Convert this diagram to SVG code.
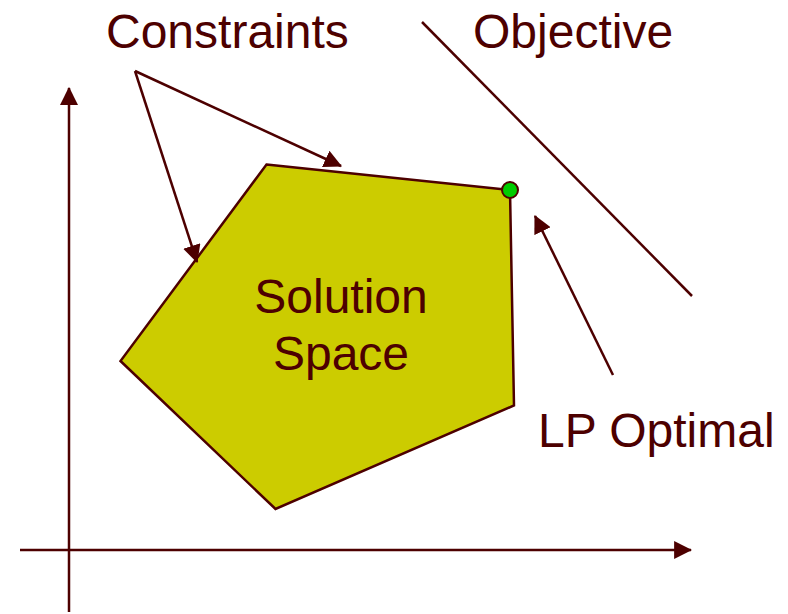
<svg xmlns="http://www.w3.org/2000/svg" width="788" height="614" viewBox="0 0 788 614">
<style>
.t{font-family:"Liberation Sans",Arial,sans-serif;font-size:48px;fill:#4d0000}
.ln{stroke:#4d0000;stroke-width:2.5;fill:none}
</style>
<defs>
<marker id="ah" markerUnits="userSpaceOnUse" markerWidth="18" markerHeight="18" viewBox="0 0 16 16" refX="15" refY="8" orient="auto">
<path d="M0,0 L16,8 L0,16 Z" fill="#4d0000"/>
</marker>
</defs>
<rect width="788" height="614" fill="#ffffff"/>
<g id="axes">
<line class="ln" x1="69" y1="612" x2="69" y2="88" marker-end="url(#ah)"/>
<line class="ln" x1="20" y1="550" x2="691" y2="550" marker-end="url(#ah)"/>
</g>
<g id="solution-space">
<polygon points="266.5,164.5 510,190 514,405.5 275.5,509 120.5,361" fill="#cccc00" stroke="#4d0000" stroke-width="2.5" stroke-linejoin="miter"/>
<text class="t" x="341" y="313" text-anchor="middle">Solution</text>
<text class="t" x="341" y="370" text-anchor="middle">Space</text>
</g>
<g id="objective-line">
<line class="ln" x1="422" y1="22" x2="692" y2="296" stroke-width="2"/>
</g>
<g id="optimal-point">
<circle cx="510" cy="190" r="8" fill="#00cc00" stroke="#4d0000" stroke-width="2"/>
</g>
<g id="labels">
<text id="constraints" class="t" x="106" y="48">Constraints</text>
<text id="objective" class="t" x="473" y="48">Objective</text>
<text id="lp-optimal" class="t" x="538" y="447">LP Optimal</text>
</g>
<g id="connectors">
<line class="ln" x1="135" y1="71" x2="341" y2="166" marker-end="url(#ah)"/>
<line class="ln" x1="135" y1="71" x2="197" y2="262" marker-end="url(#ah)"/>
<line class="ln" x1="613" y1="375" x2="535" y2="216" marker-end="url(#ah)"/>
</g>
</svg>
